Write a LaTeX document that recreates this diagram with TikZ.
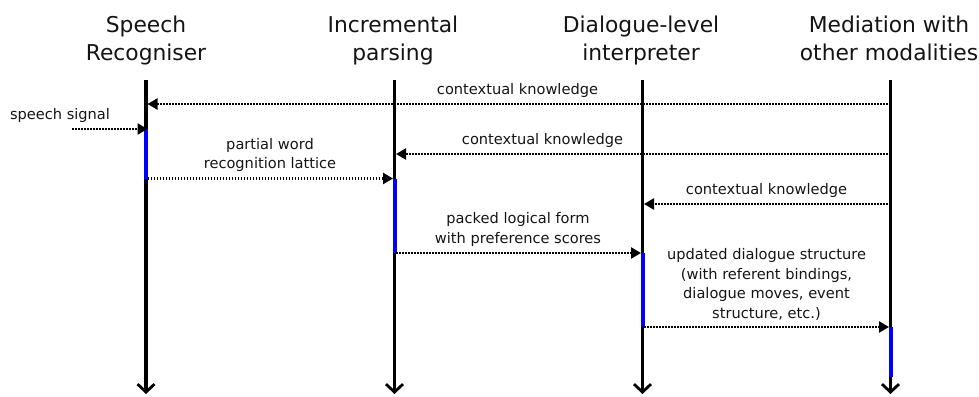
\documentclass[tikz,border=0pt]{standalone}
\usepackage{fontspec}
\setmainfont{DejaVu Sans}
\usetikzlibrary{arrows.meta}
\begin{document}
\begin{tikzpicture}[x=1pt,y=-1pt,
  lifeline/.style={line width=3.3pt,-{Straight Barb[length=8pt,width=17pt,line width=2.8pt]}},
  activation/.style={line width=4pt,draw=blue},
  msg/.style={line width=2.3pt,dash pattern=on 1.6pt off 1.4pt,-{Triangle[length=10pt,width=11pt]}},
  title/.style={font=\fontsize{21.8}{28}\selectfont,align=center,text=black!92,inner sep=0pt},
  lbl/.style={font=\fontsize{14.6}{19.5}\selectfont,align=center,text=black!92,inner sep=0pt,anchor=south},
]
\useasboundingbox (0,0) rectangle (979,396);

% participant headings (anchored on the baseline of the second line)
\node[title,anchor=base] (tsr) at (146,60) {Speech\\Recogniser};
\node[title,anchor=base] (tip) at (393,60) {Incremental\\parsing};
\node[title,anchor=base] (tdi) at (641,60) {Dialogue-level\\interpreter};
\node[title,anchor=base] (tmm) at (889,60) {Mediation with\\other modalities};

% lifeline end points
\coordinate (srT) at (146,80);  \coordinate (srB) at (146,394);
\coordinate (ipT) at (394.5,80); \coordinate (ipB) at (394.5,394);
\coordinate (diT) at (642.5,80); \coordinate (diB) at (642.5,394);
\coordinate (mmT) at (890.5,80); \coordinate (mmB) at (890.5,394);

\draw[lifeline] (srT) -- (srB);
\draw[lifeline] (ipT) -- (ipB);
\draw[lifeline] (diT) -- (diB);
\draw[lifeline] (mmT) -- (mmB);

% activation bars
\draw[activation] (146,129) coordinate (sra) -- (146,178.5) coordinate (srb);
\draw[activation] (394.5,178.5) coordinate (ipa) -- (394.5,253) coordinate (ipb);
\draw[activation] (642.5,253) coordinate (dia) -- (642.5,327) coordinate (dib);
\draw[activation] (890.5,327) coordinate (mma) -- (890.5,377) coordinate (mmb);

% message anchor points
\coordinate (ss0) at (72,129);    \coordinate (ss1) at (147.5,129);
\coordinate (c1a) at (890.5,104); \coordinate (c1b) at (147.5,104);
\coordinate (c2a) at (890.5,154); \coordinate (c2b) at (396,154);
\coordinate (c3a) at (890.5,204); \coordinate (c3b) at (644,204);
\coordinate (pwa) at (147.5,178.5); \coordinate (pwb) at (393,178.5);
\coordinate (pla) at (396,253);   \coordinate (plb) at (641,253);
\coordinate (uda) at (644,327);   \coordinate (udb) at (889,327);

% messages
\draw[msg] (c1a) -- (c1b);
\node[lbl] (l1) at (517.5,97.5) {contextual knowledge};

\draw[msg] (ss0) -- (ss1);
\node[lbl] (l2) at (60,122.5) {speech signal};

\draw[msg] (c2a) -- (c2b);
\node[lbl] (l3) at (542.5,147.5) {contextual knowledge};

\draw[msg] (pwa) -- (pwb);
\node[lbl] (l4) at (270,172) {partial word\\recognition lattice};

\draw[msg] (c3a) -- (c3b);
\node[lbl] (l5) at (766.5,197.5) {contextual knowledge};

\draw[msg] (pla) -- (plb);
\node[lbl] (l6) at (518,246.5) {packed logical form\\with preference scores};

\draw[msg] (uda) -- (udb);
\node[lbl] (l7) at (766.5,320.5) {updated dialogue structure\\(with referent bindings,\\dialogue moves, event\\structure, etc.)};
\end{tikzpicture}
\end{document}
